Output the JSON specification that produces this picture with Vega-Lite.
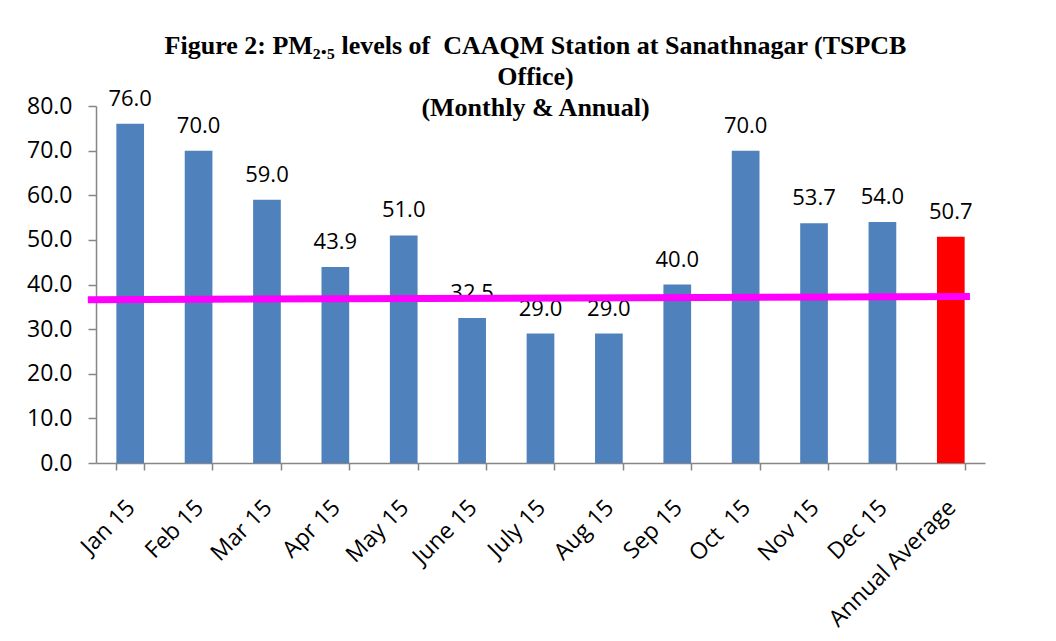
{
  "$schema": "https://vega.github.io/schema/vega-lite/v6.json",
  "width": 889,
  "height": 357,
  "autosize": {"type": "none"},
  "padding": {"left": 96, "top": 106, "right": 71, "bottom": 178},
  "background": "white",
  "title": {
    "text": ["Figure 2: PM₂.₅ levels of\u00a0 CAAQM Station at Sanathnagar (TSPCB", "Office)", "(Monthly & Annual)"],
    "font": "Liberation Serif",
    "fontSize": 26,
    "fontWeight": "bold",
    "color": "#000000",
    "lineHeight": 31,
    "anchor": "middle",
    "baseline": "top",
    "offset": -33,
    "dx": -5
  },
  "config": {
    "view": {"stroke": null},
    "axis": {
      "labelFont": "Open Sans",
      "labelFontSize": 23,
      "labelColor": "#000000",
      "domainColor": "#868686",
      "tickColor": "#868686",
      "domainWidth": 1.5,
      "tickWidth": 1.5,
      "grid": false
    }
  },
  "datasets": {
    "pm": [
      {"month": "Jan 15", "value": 76.0},
      {"month": "Feb 15", "value": 70.0},
      {"month": "Mar 15", "value": 59.0},
      {"month": "Apr 15", "value": 43.9},
      {"month": "May 15", "value": 51.0},
      {"month": "June 15", "value": 32.5},
      {"month": "July 15", "value": 29.0},
      {"month": "Aug 15", "value": 29.0},
      {"month": "Sep 15", "value": 40.0},
      {"month": "Oct\u00a0 15", "value": 70.0},
      {"month": "Nov 15", "value": 53.7},
      {"month": "Dec 15", "value": 54.0},
      {"month": "Annual Average", "value": 50.7}
    ],
    "line": [
      {"pos": -0.12, "level": 36.6},
      {"pos": 12.78, "level": 37.3}
    ]
  },
  "layer": [
    {
      "data": {"name": "pm"},
      "encoding": {
        "x": {
          "field": "month",
          "type": "nominal",
          "sort": null,
          "scale": {"paddingInner": 0.595, "paddingOuter": 0.2975},
          "axis": {
            "title": null,
            "labelAngle": -45,
            "tickBand": "extent",
            "tickSize": 7,
            "labelPadding": 26,
            "labelOffset": -7
          }
        },
        "y": {
          "field": "value",
          "type": "quantitative",
          "scale": {"domain": [0, 80], "nice": false},
          "axis": {
            "title": null,
            "values": [0, 10, 20, 30, 40, 50, 60, 70, 80],
            "format": ".1f",
            "tickSize": 8,
            "labelPadding": 16
          }
        }
      },
      "layer": [
        {
          "mark": {"type": "bar"},
          "encoding": {
            "color": {
              "condition": {"test": "datum.month === 'Annual Average'", "value": "#FF0000"},
              "value": "#4F81BD"
            }
          }
        },
        {
          "mark": {"type": "text", "font": "Open Sans", "fontSize": 22, "color": "#000000", "baseline": "alphabetic", "dy": -18},
          "encoding": {
            "text": {"field": "value", "type": "quantitative", "format": ".1f"}
          }
        }
      ]
    },
    {
      "data": {"name": "line"},
      "mark": {"type": "line", "color": "#FF00FF", "strokeWidth": 7, "clip": false},
      "encoding": {
        "x": {"field": "pos", "type": "quantitative", "scale": {"domain": [0, 13], "nice": false, "zero": false}, "axis": null},
        "y": {"field": "level", "type": "quantitative"}
      }
    }
  ],
  "resolve": {"scale": {"x": "independent"}}
}
